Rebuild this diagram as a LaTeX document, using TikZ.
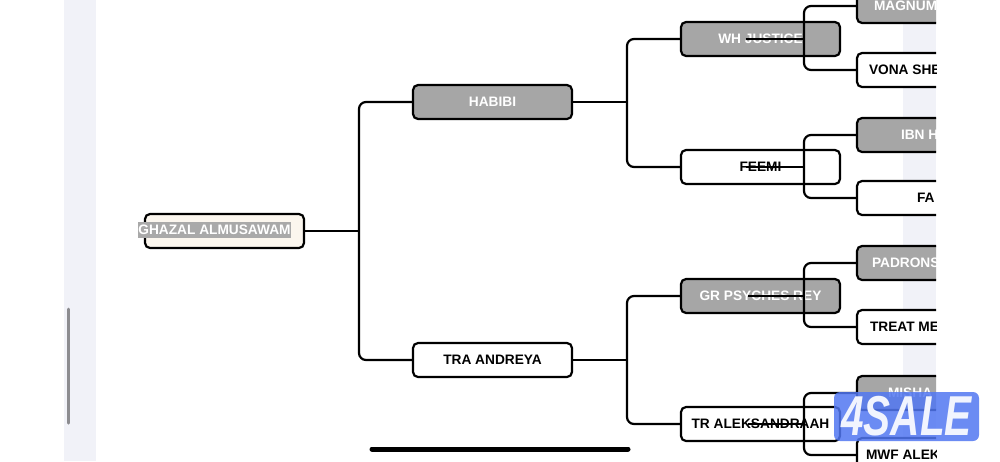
\documentclass[tikz,border=0pt]{standalone}
\usepackage{fontspec}
\setmainfont{Liberation Sans}
\usepackage{xcolor}
\definecolor{boxgrey}{HTML}{A6A6A6}
\definecolor{cream}{HTML}{FBF6EE}
\definecolor{selgrey}{HTML}{A9A9A9}
\definecolor{strip}{HTML}{F1F2F8}
\definecolor{scrollgrey}{HTML}{8C8C90}
\definecolor{badge}{HTML}{5277F2}
\newlength\px
\setlength\px{0.02cm}
\newcommand\cuttext[2]{\makebox[159\px][l]{\hspace{#1\px}#2}}

\begin{document}
\begin{tikzpicture}[x=0.02cm,y=-0.02cm,
	box/.style={draw, line width=1.25pt, rounded corners=0.1cm, minimum width=3.18cm, minimum height=0.68cm, inner sep=0pt, font=\fontsize{7.8}{9}\selectfont\bfseries},
	won/.style={box, fill=boxgrey, text=white},
	lost/.style={box, fill=white},
	link/.style={line width=1.25pt, rounded corners=0.14cm}]
	\useasboundingbox (0,0) rectangle (1000,461);
	\fill[white] (0,0) rectangle (1000,461);
	\fill[strip] (64,0) rectangle (96,461);
	\fill[strip] (903,0) rectangle (936,461);
	\draw[scrollgrey, line width=0.06cm, line cap=round] (68,309) -- (68,423);
	
	\node[box, fill=cream] (G) at (224.5,231) {};
	\node[fill=selgrey, text=white, inner xsep=0pt, inner ysep=0pt, minimum height=0.32cm, font=\fontsize{7.8}{9}\selectfont\bfseries] (Gs) at (214.5,230) {GHAZAL ALMUSAWAM};
	
	\node[won] (H) at (492.5,102) {HABIBI};
	\node[lost] (T) at (492.5,360) {TRA ANDREYA};
	
	\node[won] (W) at (760.5,39) {WH JUSTICE};
	\node[lost] (F) at (760.5,167) {FEEMI};
	\node[won] (P) at (760.5,296) {GR PSYCHES REY};
	\node[lost] (A) at (760.5,424) {TR ALEKSANDRAAH};
	
	\begin{scope}
		\clip (0,0) rectangle (936,461);
		\node[won] (M) at (936.5,6) {\cuttext{17}{MAGNUM}};
		\node[lost] (V) at (936.5,70) {\cuttext{12}{VONA SHE}};
		\node[won] (I) at (936.5,135) {\cuttext{44}{IBN H}};
		\node[lost] (Fa) at (936.5,198) {\cuttext{60}{FA}};
		\node[won] (Pa) at (936.5,263) {\cuttext{15}{PADRONS}};
		\node[lost] (Tr) at (936.5,327) {\cuttext{13}{TREAT ME}};
		\node[won] (Mi) at (936.5,393) {\cuttext{31}{MISHA}};
		\node[lost] (Mw) at (936.5,455) {\cuttext{9}{MWF ALEK}};
	\end{scope}
	
	\coordinate (g) at (359,231);
	\coordinate (h) at (627,102);
	\coordinate (t) at (627,360);
	\coordinate (w) at (804,39);
	\coordinate (f) at (804,167);
	\coordinate (p) at (804,296);
	\coordinate (a) at (804,424);
	
	\draw[link] (G.east) -- (g);
	\draw[link] (H.west) -| (g) |- (T.west);
	\draw[link] (H.east) -- (h);
	\draw[link] (W.west) -| (h) |- (F.west);
	\draw[link] (T.east) -- (t);
	\draw[link] (P.west) -| (t) |- (A.west);
	
	\draw[link] ([xshift=-0.3cm]W.center) -- (w);
	\draw[link] (M.west) -| (w) |- (V.west);
	\draw[link] ([xshift=-0.3cm]F.center) -- (f);
	\draw[link] (I.west) -| (f) |- (Fa.west);
	\draw[link] ([xshift=-0.25cm]P.center) -- (p);
	\draw[link] (Pa.west) -| (p) |- (Tr.west);
	\draw[link] ([xshift=-0.25cm]A.center) -- (a);
	\draw[link] (Mi.west) -| (a) |- (Mw.west);
	
	\node[fill=badge, fill opacity=0.85, text opacity=1, text=white!92!badge, rounded corners=0.12cm, minimum width=2.9cm, minimum height=0.98cm, inner sep=0pt, font=\fontsize{32}{32}\selectfont\bfseries\itshape] (S) at (906.5,416.5) {\scalebox{0.72}[1]{4SALE}};
	
	\draw[line width=0.1cm, line cap=round] (372,449) -- (628,449);
\end{tikzpicture}
\end{document}
